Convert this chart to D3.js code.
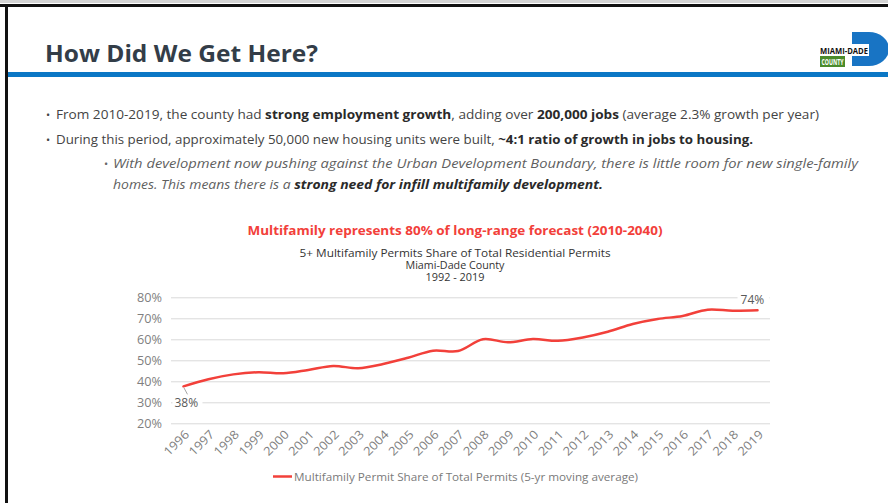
<!DOCTYPE html>
<html lang="en">
<head>
<meta charset="UTF-8">
<title>How Did We Get Here?</title>
<script src="https://d3js.org/d3.v7.min.js"></script>
<style>
  body { margin: 0; background: #fff; }
  svg text { font-family: "Open Sans", "DejaVu Sans", sans-serif; }
  .grid line { stroke: #d9d9d9; stroke-width: 1; }
  .axis-lbl { fill: #7f7f7f; font-size: 12px; }
</style>
</head>
<body>
<div id="chart"></div>
<script>
// chart data
const years = ["1996","1997","1998","1999","2000","2001","2002","2003","2004","2005","2006","2007",
               "2008","2009","2010","2011","2012","2013","2014","2015","2016","2017","2018","2019"];
const shareValues = [37.6, 41.0, 43.3, 44.3, 43.8, 45.4, 47.3, 46.2, 48.2, 51.2, 54.6, 54.4,
                     60.0, 58.6, 60.1, 59.3, 60.9, 63.6, 67.3, 69.7, 71.1, 74.1, 73.6, 73.8];
const yTicks = [20, 30, 40, 50, 60, 70, 80];
const seriesName = "Multifamily Permit Share of Total Permits (5-yr moving average)";
const chartHeadline = "Multifamily represents 80% of long-range forecast (2010-2040)";
const chartTitleLines = ["5+ Multifamily Permits Share of Total Residential Permits", "Miami-Dade County", "1992 - 2019"];

const W = 888, H = 503;
const svg = d3.select("#chart").append("svg")
    .attr("width", W).attr("height", H);

function fit(sel, w) {
    sel.attr("textLength", w).attr("lengthAdjust", "spacingAndGlyphs");
    return sel;
}

// slide frame
svg.append("rect").attr("x", 0).attr("y", 0).attr("width", W).attr("height", 3).attr("fill", "#d4d4d4");
svg.append("rect").attr("x", 0).attr("y", 4).attr("width", W).attr("height", 3).attr("fill", "#111");
svg.append("rect").attr("x", 5).attr("y", 4).attr("width", 3).attr("height", H).attr("fill", "#111");

// header
fit(svg.append("text").attr("x", 45).attr("y", 62)
    .attr("font-size", 24).attr("font-weight", 700).attr("fill", "#333d48")
    .text("How Did We Get Here?"), 273);
svg.append("rect").attr("x", 8).attr("y", 72).attr("width", W).attr("height", 5).attr("fill", "#0b77c5");

// logo
const logo = svg.append("g");
logo.append("path").attr("d", "M852,32 H869 A20,17 0 0 1 869,66 H852 Z").attr("fill", "#1874c4");
logo.append("rect").attr("x", 819).attr("y", 44).attr("width", 50).attr("height", 12).attr("fill", "#fff");
fit(logo.append("text").attr("x", 820).attr("y", 54).attr("font-size", 9.5).attr("font-weight", 700)
    .attr("fill", "#111").text("MIAMI-DADE"), 48);
logo.append("rect").attr("x", 820).attr("y", 56).attr("width", 25).attr("height", 11).attr("fill", "#4a8b2c");
fit(logo.append("text").attr("x", 821.5).attr("y", 65).attr("font-size", 8).attr("font-weight", 700)
    .attr("fill", "#fff").text("COUNTY"), 22);

// bullets
const bullets = [
    {bx: 46, x: 56, y: 119, w: 763, parts: [
        ["From 2010-2019, the county had ", 400], ["strong employment growth", 700],
        [", adding over ", 400], ["200,000 jobs", 700], [" (average 2.3% growth per year)", 400]]},
    {bx: 46, x: 56, y: 144, w: 697, parts: [
        ["During this period, approximately 50,000 new housing units were built, ", 400],
        ["~4:1 ratio of growth in jobs to housing.", 700]]},
    {bx: 104, x: 113, y: 168, w: 745, italic: true, parts: [
        ["With development now pushing against the Urban Development Boundary, there is little room for new single-family", 400]]},
    {bx: null, x: 113, y: 189, w: 490, italic: true, parts: [
        ["homes. This means there is a ", 400], ["strong need for infill multifamily development.", 700]]}
];
bullets.forEach(b => {
    if (b.bx !== null) {
        svg.append("text").attr("x", b.bx).attr("y", b.y).attr("font-size", 11)
            .attr("fill", b.italic ? "#666" : "#444").text("•");
    }
    const t = svg.append("text").attr("x", b.x).attr("y", b.y).attr("font-size", 12.5)
        .attr("font-style", b.italic ? "italic" : "normal");
    b.parts.forEach(p => {
        t.append("tspan").attr("font-weight", p[1])
            .attr("fill", p[1] > 400 ? "#2a2a2a" : (b.italic ? "#5f5f5f" : "#444"))
            .text(p[0]);
    });
    fit(t, b.w);
});

// chart titles
fit(svg.append("text").attr("x", 455).attr("y", 235).attr("text-anchor", "middle")
    .attr("font-size", 13).attr("font-weight", 700).attr("fill", "#f2403a")
    .text(chartHeadline), 415);
const titleWidths = [311, 99, 59];
chartTitleLines.forEach((s, i) => {
    fit(svg.append("text").attr("x", 455).attr("y", 257 + i * 12).attr("text-anchor", "middle")
        .attr("font-size", 10.5).attr("fill", "#333").text(s), titleWidths[i]);
});

// scales
const x = d3.scalePoint().domain(years).range([171, 770]).padding(0.5);
const y = d3.scaleLinear().domain([20, 80]).range([423.3, 297.3]);

// y grid + labels
const yAxis = svg.append("g").attr("class", "grid")
    .attr("transform", "translate(171,0)")
    .call(d3.axisLeft(y).tickValues(yTicks).tickSize(-599).tickPadding(9).tickFormat(d => d + "%"));
yAxis.select(".domain").remove();
yAxis.selectAll("text").attr("class", "axis-lbl").attr("fill", null).attr("font-family", null)
    .attr("font-size", null).attr("textLength", 25).attr("lengthAdjust", "spacingAndGlyphs");

// x labels
const xAxis = svg.append("g").attr("transform", "translate(0,423.3)")
    .call(d3.axisBottom(x).tickSize(0).tickPadding(0));
xAxis.select(".domain").remove();
xAxis.selectAll("text").attr("class", "axis-lbl").attr("fill", null).attr("font-family", null)
    .attr("font-size", 11.5)
    .attr("text-anchor", "end").attr("dy", null).attr("y", 0)
    .attr("textLength", 30).attr("lengthAdjust", "spacingAndGlyphs")
    .attr("transform", "translate(6,12) rotate(-45)");

// line
const line = d3.line()
    .x((d, i) => x(years[i]))
    .y(d => y(d))
    .curve(d3.curveCatmullRom.alpha(0.5));
svg.append("path").datum(shareValues)
    .attr("d", line).attr("fill", "none")
    .attr("stroke", "#f2403a").attr("stroke-width", 2.5).attr("stroke-linecap", "round");

// data labels (first and last point)
const first = {px: x(years[0]), py: y(shareValues[0]), v: shareValues[0]};
const last = {px: x(years[years.length - 1]), py: y(shareValues[shareValues.length - 1]), v: shareValues[shareValues.length - 1]};
svg.append("line").attr("x1", first.px + 0.5).attr("y1", first.py + 1.5)
    .attr("x2", first.px + 4).attr("y2", first.py + 8).attr("stroke", "#a6a6a6").attr("stroke-width", 1);
svg.append("rect").attr("x", first.px - 11).attr("y", first.py + 9).attr("width", 30).attr("height", 14).attr("fill", "#fff");
svg.append("text").attr("x", first.px - 9).attr("y", first.py + 20.5)
    .attr("font-size", 12).attr("fill", "#595959").text(Math.round(first.v) + "%");
svg.append("rect").attr("x", last.px - 20).attr("y", last.py - 18).attr("width", 32).attr("height", 14).attr("fill", "#fff");
svg.append("text").attr("x", last.px - 17).attr("y", last.py - 6.5)
    .attr("font-size", 12).attr("fill", "#595959").text(Math.round(last.v) + "%");

// legend
svg.append("line").attr("x1", 273).attr("x2", 292).attr("y1", 476.5).attr("y2", 476.5)
    .attr("stroke", "#f2403a").attr("stroke-width", 2.5);
fit(svg.append("text").attr("x", 294).attr("y", 480.5).attr("font-size", 11.5).attr("fill", "#7a7a7a")
    .text(seriesName), 344);
</script>
</body>
</html>
